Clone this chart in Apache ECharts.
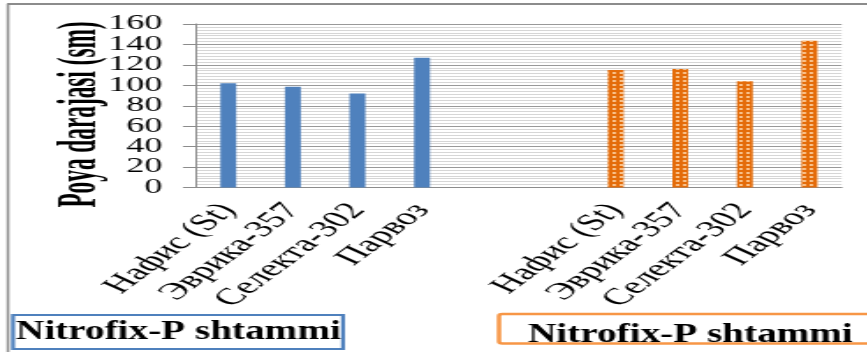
<!DOCTYPE html>
<html><head><meta charset="utf-8">
<script src="https://cdn.jsdelivr.net/npm/echarts@6/dist/echarts.min.js"></script>
<style>
html,body{margin:0;padding:0;background:#fff;overflow:hidden;}
#wrap{width:867px;height:352px;overflow:hidden;position:relative;background:#fff;}
#chart{position:absolute;left:0;top:0;height:352px;transform-origin:0 0;}
</style></head><body>
<div id="wrap"><div id="chart"></div></div>
<script>
// ---- data ----
const varieties = ['Нафис (St)', 'Эврика-357', 'Селекта-302', 'Парвоз'];
const gapLabels = ['', ''];
const blueValues = [102, 98.5, 92, 127];
const orangeValues = [115, 116, 104, 143.5];
const yTicksA = [0, 40, 80, 120, 160];
const yTicksB = [20, 60, 100, 140];
const yMin = 0, yMax = 160, yStep = 20;
const yTitle = 'Poya darajasi (sm)';
const boxLabels = ['Nitrofix-P shtammi', 'Nitrofix-P shtammi'];

// ---- layout (the reference figure is horizontally stretched) ----
const K = 1.76;
const W = 867 / K;
const el = document.getElementById('chart');
el.style.width = W + 'px';
el.style.transform = 'scaleX(' + K + ')';

const categories = [...varieties, ...gapLabels, ...varieties];
const pad = new Array(varieties.length + gapLabels.length).fill(null);
const blueData = [...blueValues, ...pad];
const orangeData = [...pad, ...orangeValues];

const serif = '"Liberation Serif", "Times New Roman", serif';
const yLabelStyle = {color: '#000', fontFamily: serif, fontSize: 20.5, margin: 19, showMinLabel: true, showMaxLabel: true, hideOverlap: false};
const chart = echarts.init(el, null, {renderer: 'canvas'});
chart.setOption({
  animation: false,
  backgroundColor: 'transparent',
  grid: {left: 196 / K, right: W - 841 / K, top: 24, bottom: 164.5, containLabel: false, outerBoundsMode: 'none'},
  xAxis: {
    type: 'category', data: categories,
    axisLine: {show: true, lineStyle: {color: '#8c8c8c', width: 1}},
    axisTick: {show: false},
    axisLabel: {interval: 0, rotate: 52, color: '#000', fontFamily: serif, fontSize: 23.5, margin: 19, hideOverlap: false},
    splitLine: {show: false}
  },
  yAxis: [{
    type: 'value', min: yMin, max: yMax, interval: yStep, position: 'left',
    axisLine: {show: true, lineStyle: {color: '#8c8c8c', width: 1}},
    axisTick: {show: true, length: 13 / K, lineStyle: {color: '#8c8c8c'}},
    axisLabel: Object.assign({customValues: yTicksA}, yLabelStyle),
    splitLine: {show: true, lineStyle: {color: '#999999', width: 1}},
    minorTick: {show: false, splitNumber: 7},
    minorSplitLine: {show: true, lineStyle: {color: '#d6d6d6', width: 1}}
  }, {
    type: 'value', min: yMin, max: yMax, interval: yStep, position: 'left', offset: 0,
    axisLine: {show: false}, axisTick: {show: false},
    axisLabel: Object.assign({customValues: yTicksB}, yLabelStyle),
    splitLine: {show: false}
  }],
  series: [
    {type: 'bar', data: blueData, barWidth: 9, barGap: '-100%',
     itemStyle: {color: '#4F81BD'}},
    {type: 'bar', data: orangeData, barWidth: 9, barGap: '-100%',
     itemStyle: {color: '#E46C0A',
       decal: {symbol: 'rect', symbolSize: 1, color: 'rgba(255,220,180,0.75)', dashArrayX: [1.1, 1.2], dashArrayY: [1.4, 1.6], rotation: 0}}}
  ],
  graphic: [
    {type: 'line', shape: {x1: 7 / K, y1: 4, x2: W + 5, y2: 4}, style: {stroke: '#8c8c8c', lineWidth: 2}, silent: true},
    {type: 'line', shape: {x1: 8 / K, y1: 4, x2: 8 / K, y2: 360}, style: {stroke: '#8c8c8c', lineWidth: 1.5}, silent: true},
    {type: 'text', x: 81 / K, y: 114.5, rotation: Math.PI / 2, scaleX: 0.97, scaleY: 1.35,
     style: {text: yTitle, fill: '#000', font: 'bold 24px ' + serif, align: 'center', verticalAlign: 'middle'}, silent: true},
    {type: 'rect', shape: {x: 13 / K, y: 315, width: 330 / K, height: 34}, style: {fill: '#fff', stroke: '#4F81BD', lineWidth: 2.2}, silent: true},
    {type: 'text', x: 16 / K, y: 332, scaleX: 0.81, style: {text: boxLabels[0], fill: '#000', font: 'bold 27.5px ' + serif, align: 'left', verticalAlign: 'middle'}, silent: true},
    {type: 'rect', shape: {x: 499 / K, y: 314, width: 420 / K, height: 29.5, r: 2}, style: {fill: '#fff', stroke: '#F79646', lineWidth: 2.5}, silent: true},
    {type: 'text', x: 528 / K, y: 335, scaleX: 0.81, style: {text: boxLabels[1], fill: '#000', font: 'bold 27.5px ' + serif, align: 'left', verticalAlign: 'middle'}, silent: true}
  ]
});
</script>
</body></html>
